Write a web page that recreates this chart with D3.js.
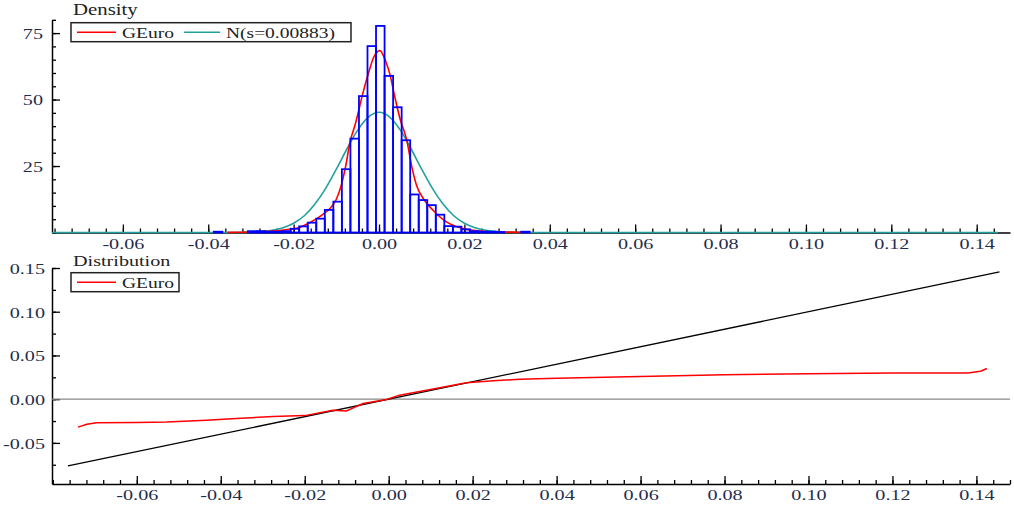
<!DOCTYPE html>
<html>
<head>
<meta charset="utf-8">
<script src="https://cdn.jsdelivr.net/npm/d3@7"></script>
<style>
  body { margin: 0; background: #fff; }
  text { font-family: "Liberation Serif", "Times New Roman", serif; }
</style>
</head>
<body>
<div id="chart"></div>
<script>
// histogram of GEuro returns: left edge of each bin and its density
var binWidth = 0.002;
var binLeft = [-0.0387, -0.0307, -0.0287, -0.0267, -0.0247, -0.0227, -0.0207, -0.0187, -0.0167, -0.0147,
  -0.0127, -0.0107, -0.0087, -0.0067, -0.0047, -0.0027, -0.0007, 0.0013, 0.0033, 0.0053,
  0.0073, 0.0093, 0.0113, 0.0133, 0.0153, 0.0173, 0.0193, 0.0213, 0.0233, 0.0253, 0.0273, 0.0333];
var binDensity = [0.3, 0.5, 0.5, 0.3, 0.3, 0.5, 1.4, 2.3, 3.7, 5.2,
  8.5, 11.6, 23.8, 35.3, 51.3, 70.1, 77.7, 58.9, 47.1, 34.7,
  14.3, 12.2, 10.3, 6.7, 2.4, 2.2, 1.2, 0.5, 0.3, 0.3, 0.2, 0.3];

// kernel density estimate (red)
var kdeX = [-0.0355, -0.03, -0.025, -0.021, -0.0185, -0.0165, -0.0146, -0.013, -0.0115, -0.01, -0.0088,
  -0.0078, -0.0068, -0.0056, -0.0037, -0.0025, -0.0012, 0.0002, 0.0016, 0.0026, 0.0036, 0.0049,
  0.0065, 0.0077, 0.0088, 0.0104, 0.0127, 0.0159, 0.019, 0.022, 0.025, 0.03, 0.034];
var kdeY = [0.05, 0.2, 0.5, 1.2, 2.0, 3.5, 5.2, 7.0, 9.0, 12.5, 18,
  25, 34, 40.5, 52.9, 59.8, 66.1, 68.4, 64.2, 59.2, 51.7, 42.9,
  34.7, 24.6, 17.7, 12.7, 8.3, 3.9, 1.8, 0.8, 0.4, 0.15, 0.05];

// normal reference density (teal)
var normX = [-0.0766, -0.04, -0.035, -0.03, -0.025, -0.0225, -0.02, -0.0175, -0.015, -0.0125, -0.01,
  -0.0075, -0.005, -0.0025, 0, 0.0025, 0.005, 0.0075, 0.01, 0.0125, 0.015, 0.0175, 0.02,
  0.0225, 0.025, 0.03, 0.035, 0.04, 0.145];
var normY = [0, 0, 0.02, 0.14, 0.8, 1.8, 3.5, 6.3, 10.7, 16.6, 23.8,
  31.5, 38.5, 43.4, 45.2, 43.4, 38.5, 31.5, 23.8, 16.6, 10.7, 6.3, 3.5,
  1.8, 0.8, 0.14, 0.02, 0, 0];

// distribution panel (red) and 45 degree reference (black)
var distX = [-0.074, -0.0719, -0.0696, -0.06, -0.0529, -0.0434, -0.0363, -0.0275, -0.02, -0.0133, -0.0101,
  -0.0061, -0.0005, 0.0026, 0.009, 0.0185, 0.025, 0.0312, 0.04, 0.06, 0.08, 0.10, 0.12, 0.138, 0.141, 0.1425];
var distY = [-0.032, -0.0286, -0.0271, -0.0268, -0.0262, -0.024, -0.0221, -0.0198, -0.0188, -0.0126, -0.0134,
  -0.0049, -0.0003, 0.0046, 0.0103, 0.0187, 0.021, 0.0228, 0.024, 0.026, 0.028, 0.029, 0.030, 0.030, 0.032, 0.035];
var refX = [-0.0764, 0.1455];
var refY = [-0.0764, 0.1455];

var xTicks = [-0.06, -0.04, -0.02, 0.00, 0.02, 0.04, 0.06, 0.08, 0.10, 0.12, 0.14];
var densTicks = [25, 50, 75];
var distTicks = [-0.05, 0.00, 0.05, 0.10, 0.15];

var width = 1014,
  height = 509,
  sx = 1.3; // the reference text is stretched horizontally

var labelColor = '#1f2d4d';

var svg = d3.select('#chart')
  .append('svg')
  .attr('width', width)
  .attr('height', height);

var x1 = d3.scaleLinear().domain([-0.0766, 0.1478]).range([52, 1010]);
var y1 = d3.scaleLinear().domain([0, 80]).range([232.5, 19.8]);
var x2 = d3.scaleLinear().domain([-0.0802, 0.148]).range([52, 1010]);
var y2 = d3.scaleLinear().domain([-0.097, 0.15]).range([484, 268]);

var fmt2 = function(d) { return d.toFixed(2); };

// minor tick positions
function minors(lo, hi, step) {
  var out = [];
  for (var i = Math.ceil(lo / step - 1e-9); i * step <= hi + 1e-9; i++) out.push(+(i * step).toFixed(5));
  return out;
}

function styleAxis(g) {
  g.select('.domain').attr('stroke', '#000').attr('stroke-width', 1.5);
  g.selectAll('.tick line').attr('stroke', '#000').attr('stroke-width', 1.3);
}

function bottomAxis(x, yPos, labelY) {
  svg.append('g')
    .attr('transform', 'translate(0,' + yPos + ')')
    .call(d3.axisBottom(x).tickValues(minors(x.domain()[0], x.domain()[1], 0.004))
      .tickSizeInner(-4).tickSizeOuter(0).tickFormat(''))
    .call(styleAxis);
  var g = svg.append('g')
    .attr('transform', 'translate(0,' + yPos + ')')
    .call(d3.axisBottom(x).tickValues(xTicks).tickSizeInner(-8).tickSizeOuter(0).tickFormat(fmt2))
    .call(styleAxis);
  g.select('.domain').remove();
  g.selectAll('.tick text')
    .attr('y', labelY)
    .attr('dy', 0)
    .attr('transform', 'scale(' + sx + ',1)')
    .attr('fill', labelColor)
    .style('font-size', '15.5px');
}

function leftAxis(y, majors, minorStep, fmt, gap) {
  svg.append('g')
    .attr('transform', 'translate(52,0)')
    .call(d3.axisLeft(y).tickValues(minors(y.domain()[0], y.domain()[1], minorStep))
      .tickSizeInner(-4).tickSizeOuter(0).tickFormat(''))
    .call(styleAxis);
  var g = svg.append('g')
    .attr('transform', 'translate(52,0)')
    .call(d3.axisLeft(y).tickValues(majors).tickSizeInner(-8).tickSizeOuter(0).tickFormat(fmt))
    .call(styleAxis);
  g.select('.domain').remove();
  g.selectAll('.tick text')
    .attr('x', -gap / sx)
    .attr('dy', '0.34em')
    .attr('transform', 'scale(' + sx + ',1)')
    .attr('fill', labelColor)
    .style('font-size', '15.5px');
}

function label(txt, x, y, size) {
  svg.append('text')
    .attr('transform', 'translate(' + x + ',' + y + ') scale(' + sx + ',1)')
    .attr('fill', '#222')
    .style('font-size', size + 'px')
    .text(txt);
}

// ---------- top panel: density ----------
bottomAxis(x1, 232.5, 16.5);
leftAxis(y1, densTicks, 5, d3.format('d'), 9);

var line1 = d3.line()
  .x(function(d) { return x1(d[0]); })
  .y(function(d) { return y1(d[1]); })
  .curve(d3.curveMonotoneX);

svg.append('path')
  .datum(d3.zip(normX, normY))
  .attr('d', line1)
  .attr('fill', 'none')
  .attr('stroke', '#22a0a0')
  .attr('stroke-width', 1.6);

svg.append('path')
  .datum(d3.zip(kdeX, kdeY))
  .attr('d', line1)
  .attr('fill', 'none')
  .attr('stroke', '#ff0000')
  .attr('stroke-width', 1.6);

svg.append('g')
  .selectAll('rect')
  .data(d3.zip(binLeft, binDensity))
  .enter()
  .append('rect')
  .attr('x', function(d) { return x1(d[0]); })
  .attr('y', function(d) { return y1(d[1]); })
  .attr('width', function(d) { return x1(d[0] + binWidth) - x1(d[0]); })
  .attr('height', function(d) { return y1(0) - y1(d[1]); })
  .attr('fill', 'none')
  .attr('stroke', '#0000ff')
  .attr('stroke-width', 1.8);

label('Density', 73, 15, 16);

// legend top
svg.append('rect').attr('x', 71).attr('y', 22.7).attr('width', 280).attr('height', 19)
  .attr('fill', '#fff').attr('stroke', '#222').attr('stroke-width', 1.5);
svg.append('line').attr('x1', 77).attr('x2', 116).attr('y1', 32.3).attr('y2', 32.3)
  .attr('stroke', '#ff0000').attr('stroke-width', 1.6);
label('GEuro', 122, 37.5, 15);
svg.append('line').attr('x1', 184).attr('x2', 220).attr('y1', 32.3).attr('y2', 32.3)
  .attr('stroke', '#22a0a0').attr('stroke-width', 1.6);
label('N(s=0.00883)', 226, 37.5, 15);

// ---------- bottom panel: distribution ----------
bottomAxis(x2, 484, 16);
leftAxis(y2, distTicks, 0.025, fmt2, 7);

svg.append('line')
  .attr('x1', x2.range()[0]).attr('x2', x2.range()[1])
  .attr('y1', y2(0)).attr('y2', y2(0))
  .attr('stroke', '#888').attr('stroke-width', 1.2);

var line2 = d3.line()
  .x(function(d) { return x2(d[0]); })
  .y(function(d) { return y2(d[1]); });

svg.append('path')
  .datum(d3.zip(refX, refY))
  .attr('d', line2)
  .attr('fill', 'none')
  .attr('stroke', '#000')
  .attr('stroke-width', 1.3);

svg.append('path')
  .datum(d3.zip(distX, distY))
  .attr('d', line2)
  .attr('fill', 'none')
  .attr('stroke', '#ff0000')
  .attr('stroke-width', 1.5);

label('Distribution', 73, 266, 15.5);

svg.append('rect').attr('x', 71).attr('y', 272.7).attr('width', 108).attr('height', 19)
  .attr('fill', '#fff').attr('stroke', '#222').attr('stroke-width', 1.5);
svg.append('line').attr('x1', 77).attr('x2', 116).attr('y1', 282.3).attr('y2', 282.3)
  .attr('stroke', '#ff0000').attr('stroke-width', 1.6);
label('GEuro', 122, 287.5, 15);
</script>
</body>
</html>
